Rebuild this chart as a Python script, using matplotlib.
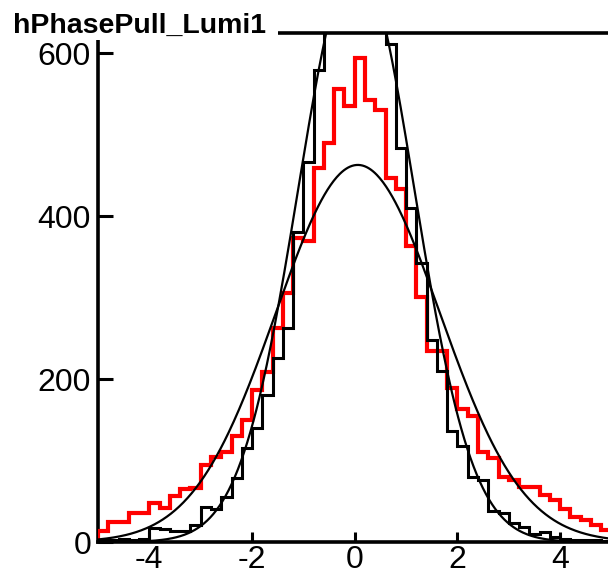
import numpy as np
import matplotlib
matplotlib.use("Agg")
import matplotlib.pyplot as plt
from matplotlib.patches import Rectangle

plt.rcParams['font.family'] = ['Liberation Sans', 'DejaVu Sans']

# 50 bins of 0.2 from -5 to 5
edges = np.linspace(-5, 5, 51)

# red histogram (wide)
red = [14, 25, 25, 36, 36, 48, 42, 56, 65, 66,
       95, 104, 111, 130, 150, 187, 209, 263, 306, 373,
       369, 459, 490, 556, 535, 594, 543, 531, 447, 433,
       363, 301, 234, 234, 189, 163, 155, 110, 103, 80,
       76, 68, 68, 58, 52, 41, 31, 27, 21, 15]

# black histogram (narrow), central bins go off the top of the frame
black = [3, 2, 4, 3, 4, 17, 16, 13, 14, 21,
         43, 40, 55, 78, 115, 140, 181, 226, 263, 381,
         467, 580, 680, 740, 780, 790, 770, 700, 611, 484,
         410, 343, 248, 210, 136, 118, 80, 76, 38, 36,
         23, 19, 10, 12, 6, 4, 3, 2, 2, 1]

# gaussian fit parameters (amplitude, mean, sigma)
fit_wide = (463, 0.06, 1.6)
fit_narrow = (715, 0.03, 1.13)

yticks = [0, 200, 400, 600]
xticks = [-4, -2, 0, 2, 4]

W, H = 608, 578
fig = plt.figure(figsize=(W / 100, H / 100), dpi=100)
ax = fig.add_axes([98 / W, 1 - 542 / H, (611.5 - 98) / W, (542 - 33) / H])

ax.stairs(red, edges, color='#ff0000', lw=3.0, zorder=3)
ax.stairs(black, edges, color='black', lw=2.2, zorder=4)

xs = np.linspace(-5, 5, 500)
for a, mu, s in (fit_wide, fit_narrow):
    ax.plot(xs, a * np.exp(-0.5 * ((xs - mu) / s) ** 2), color='black', lw=1.6, zorder=5)

ax.set_xlim(-5, 5)
ax.set_ylim(0, 625)
ax.set_xticks(xticks)
ax.set_yticks(yticks)
ax.set_xticklabels([str(t) for t in xticks])
ax.set_yticklabels([str(t) for t in yticks])
ax.tick_params(axis='both', direction='in', width=2.2, labelsize=23)
ax.tick_params(axis='y', length=11, pad=5)
ax.tick_params(axis='x', length=7, pad=2)
for sp in ax.spines.values():
    sp.set_linewidth(2.6)

# title box covering the top-left of the frame
fig.patches.append(Rectangle((0, 1 - 40 / H), 278 / W, 40 / H, transform=fig.transFigure,
                             facecolor='white', edgecolor='none', zorder=10))
fig.text(13 / W, 1 - 33 / H, 'hPhasePull_Lumi1', fontsize=20.5, fontweight='bold',
         ha='left', va='baseline', zorder=11)

fig.savefig('out.png', dpi=100)
